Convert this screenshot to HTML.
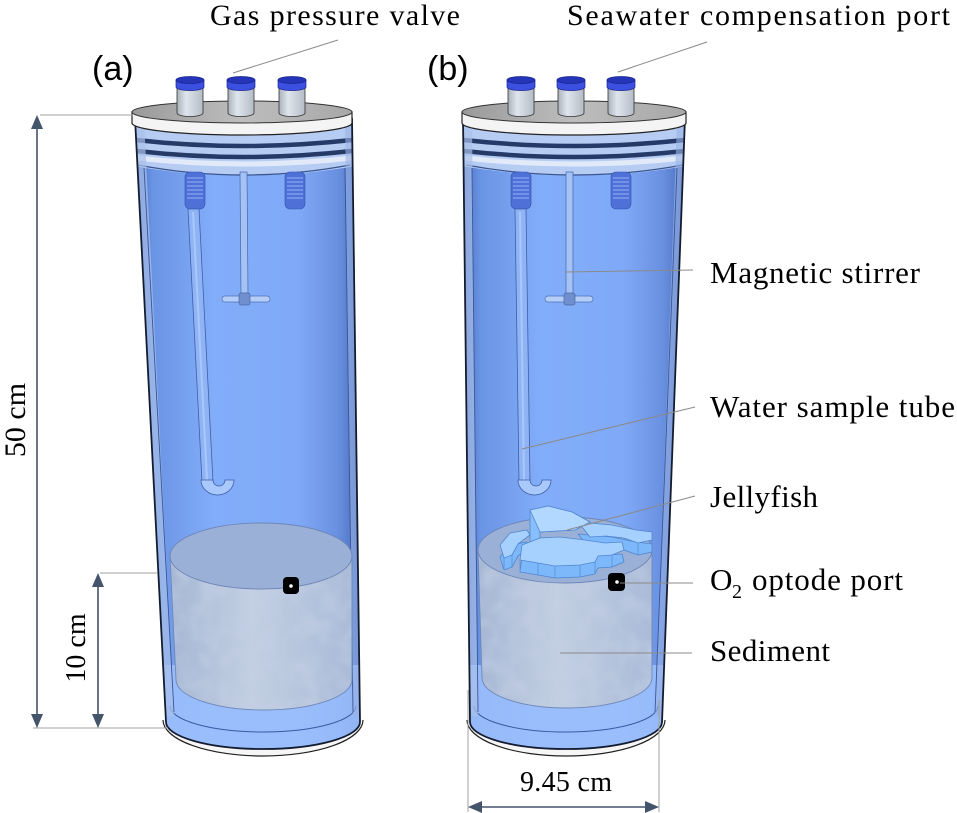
<!DOCTYPE html>
<html><head><meta charset="utf-8">
<style>
html,body{margin:0;padding:0;background:#fff;}
svg{display:block;}
.serif{font-family:"Liberation Serif","Times New Roman",serif;fill:#000;}
.sans{font-family:"Liberation Sans",Arial,sans-serif;fill:#000;}
</style></head><body>
<svg width="957" height="813" viewBox="0 0 957 813" xmlns="http://www.w3.org/2000/svg">
<defs>
 <linearGradient id="glassA" x1="0" x2="1" y1="0" y2="0">
  <stop offset="0" stop-color="#4a6ec0"/>
  <stop offset="0.08" stop-color="#6a94e4"/>
  <stop offset="0.35" stop-color="#82adf9"/>
  <stop offset="0.72" stop-color="#80aaf7"/>
  <stop offset="0.9" stop-color="#6990e0"/>
  <stop offset="1" stop-color="#4a6cbc"/>
 </linearGradient>
 <linearGradient id="lidG" x1="0" x2="1" y1="0" y2="0">
  <stop offset="0" stop-color="#9a9a9a"/>
  <stop offset="0.5" stop-color="#bdbdbd"/>
  <stop offset="1" stop-color="#a8a8a8"/>
 </linearGradient>
 <linearGradient id="portG" x1="0" x2="1" y1="0" y2="0">
  <stop offset="0" stop-color="#aab2bc"/>
  <stop offset="0.35" stop-color="#dfe5ec"/>
  <stop offset="1" stop-color="#b4bcc6"/>
 </linearGradient>
 <linearGradient id="sedG" x1="0" x2="1" y1="0" y2="0">
  <stop offset="0" stop-color="#a6b7d4"/>
  <stop offset="0.45" stop-color="#c2cfe2"/>
  <stop offset="1" stop-color="#aabbd8"/>
 </linearGradient>
 <filter id="noise" x="0" y="0" width="100%" height="100%">
  <feTurbulence type="fractalNoise" baseFrequency="0.05" numOctaves="2" seed="4"/>
  <feColorMatrix type="matrix" values="0 0 0 0 0.55  0 0 0 0 0.62  0 0 0 0 0.78  0 0 0 1.4 -0.55"/>
 </filter>
 <clipPath id="clipA"><path d="M135,118 L166,722 A97,27 0 0 0 360,722 L352,118 Z"/></clipPath>
 <clipPath id="clipB"><path d="M463,118 L470,722 A96,27 0 0 0 662,722 L685,118 Z"/></clipPath>
 <clipPath id="sedAclip"><path d="M170,556 L176,680 A88,30 0 0 0 352,680 L352,556 A91,33 0 0 1 170,556 Z"/></clipPath>
 <clipPath id="sedBclip"><path d="M478,550 L482,678 A85,30 0 0 0 652,678 L652,550 A87,33 0 0 1 478,550 Z"/></clipPath>
</defs>

<!-- ================= CYLINDER A ================= -->
<path d="M163,720 A100,36 0 0 0 363,720 Z" fill="#f6f6f6"/>
<path d="M163,720 A100,36 0 0 0 363,720" fill="none" stroke="#222" stroke-width="1.2"/>
<path d="M135,118 L166,722 A97,27 0 0 0 360,722 L352,118 Z" fill="url(#glassA)"/>
<g clip-path="url(#clipA)">
 <path d="M130,665 L365,665 L365,780 L130,780 Z" fill="#9fc1fd" opacity="0.85"/>
 <path d="M170,706 A93,26 0 0 0 356,706" fill="none" stroke="#3a5aa0" stroke-width="1"/>
 <path d="M128,126 L362,126 L362,165 Q243,186 128,165 Z" fill="#b6ccf3"/>
 <path d="M136,140 Q243,152 352,140" fill="none" stroke="#263a68" stroke-width="4.5"/>
 <path d="M137,151 Q243,163 352,151" fill="none" stroke="#263a68" stroke-width="4.5"/>
 <path d="M137,158 Q243,170 352,158" fill="none" stroke="#e2eafa" stroke-width="5"/>
 <path d="M138,165 Q243,185 350,165" fill="none" stroke="#3a5590" stroke-width="1.2"/>
 <polygon points="135,120 144,120 174,716 166,716" fill="#a9c0ea" opacity="0.7"/>
 <line x1="144" y1="168" x2="174" y2="712" stroke="#3a5598" stroke-width="0.9"/>
 <polygon points="352,120 345,120 353,716 360,716" fill="#9ab3e4" opacity="0.6"/>
 <line x1="345" y1="168" x2="353" y2="712" stroke="#3a5598" stroke-width="0.9"/>
</g>
<rect x="185" y="172" width="20" height="37" rx="5" fill="#4f70d6" stroke="#3050b0" stroke-width="0.6"/>
<rect x="285" y="172" width="20" height="37" rx="5" fill="#4f70d6" stroke="#3050b0" stroke-width="0.6"/>
<g stroke="#86a3f2" stroke-width="1.3">
 <line x1="187" y1="178" x2="203" y2="178"/><line x1="187" y1="182" x2="203" y2="182"/><line x1="187" y1="186" x2="203" y2="186"/><line x1="187" y1="190" x2="203" y2="190"/><line x1="187" y1="194" x2="203" y2="194"/><line x1="187" y1="198" x2="203" y2="198"/>
 <line x1="287" y1="178" x2="303" y2="178"/><line x1="287" y1="182" x2="303" y2="182"/><line x1="287" y1="186" x2="303" y2="186"/><line x1="287" y1="190" x2="303" y2="190"/><line x1="287" y1="194" x2="303" y2="194"/><line x1="287" y1="198" x2="303" y2="198"/>
</g>
<path d="M188,209 L199,209 L213,482 L202,482 Z" fill="#8fb4f6" stroke="#3f5ea8" stroke-width="0.8"/>
<line x1="193" y1="212" x2="207" y2="480" stroke="#a9c7fa" stroke-width="2"/>
<path d="M201,480 A16.5,15 0 0 0 234,480 L225,480 A6,6 0 0 1 213,480 Z" fill="#a9c8fb" stroke="#3f5ea8" stroke-width="0.8"/>
<path d="M240,172 L247,172 L248,296 L241,296 Z" fill="#a5c2f5" stroke="#4565ad" stroke-width="0.7"/>
<rect x="222" y="296" width="48" height="6" rx="3" fill="#b4cef7" stroke="#5070b5" stroke-width="0.7"/>
<rect x="239" y="293" width="11" height="12" rx="2" fill="#6f8fcf" stroke="#4a68a8" stroke-width="0.7"/>
<path d="M170,556 L176,680 A88,30 0 0 0 352,680 L352,556 A91,33 0 0 1 170,556 Z" fill="url(#sedG)"/>
<g clip-path="url(#sedAclip)"><rect x="165" y="520" width="195" height="200" filter="url(#noise)"/></g>
<path d="M170,556 L176,680 A88,30 0 0 0 352,680 L352,556" fill="none" stroke="#6f88b8" stroke-width="0.9"/>
<ellipse cx="261" cy="556" rx="91" ry="33" fill="#9bb0d6" stroke="#6d86b8" stroke-width="0.9"/>
<rect x="283" y="577" width="16" height="17" rx="4" fill="#000"/>
<circle cx="291" cy="586" r="1.8" fill="#fff"/>
<path d="M135,118 L166,722 A97,27 0 0 0 360,722 L352,118" fill="none" stroke="#141c30" stroke-width="1.8"/>
<path d="M132,112 L132,123 A110,12 0 0 0 352,123 L352,112 Z" fill="#f4f4f4" stroke="#222" stroke-width="1.2"/>
<ellipse cx="242" cy="112" rx="110" ry="11" fill="url(#lidG)" stroke="#333" stroke-width="1"/>
<g>
 <path d="M177,84 L177,113 A13,3.5 0 0 0 203,113 L203,84 Z" fill="url(#portG)" stroke="#333" stroke-width="0.8"/>
 <path d="M176,80 L176,87 A14,3.5 0 0 0 204,87 L204,80 Z" fill="#3b50e0" stroke="#1a2490" stroke-width="0.7"/>
 <ellipse cx="190" cy="80" rx="14" ry="3.5" fill="#2535b8" stroke="#1a2490" stroke-width="0.7"/>
 <path d="M228,84 L228,113 A13,3.5 0 0 0 254,113 L254,84 Z" fill="url(#portG)" stroke="#333" stroke-width="0.8"/>
 <path d="M227,80 L227,87 A14,3.5 0 0 0 255,87 L255,80 Z" fill="#3b50e0" stroke="#1a2490" stroke-width="0.7"/>
 <ellipse cx="241" cy="80" rx="14" ry="3.5" fill="#2535b8" stroke="#1a2490" stroke-width="0.7"/>
 <path d="M279,84 L279,113 A13,3.5 0 0 0 305,113 L305,84 Z" fill="url(#portG)" stroke="#333" stroke-width="0.8"/>
 <path d="M278,80 L278,87 A14,3.5 0 0 0 306,87 L306,80 Z" fill="#3b50e0" stroke="#1a2490" stroke-width="0.7"/>
 <ellipse cx="292" cy="80" rx="14" ry="3.5" fill="#2535b8" stroke="#1a2490" stroke-width="0.7"/>
</g>

<!-- ================= CYLINDER B ================= -->
<path d="M467,720 A99,36 0 0 0 665,720 Z" fill="#f6f6f6"/>
<path d="M467,720 A99,36 0 0 0 665,720" fill="none" stroke="#222" stroke-width="1.2"/>
<path d="M463,118 L470,722 A96,27 0 0 0 662,722 L685,118 Z" fill="url(#glassA)"/>
<g clip-path="url(#clipB)">
 <path d="M455,665 L690,665 L690,780 L455,780 Z" fill="#9fc1fd" opacity="0.85"/>
 <path d="M474,706 A92,26 0 0 0 658,706" fill="none" stroke="#3a5aa0" stroke-width="1"/>
 <path d="M456,126 L692,126 L692,165 Q574,186 456,165 Z" fill="#b6ccf3"/>
 <path d="M464,140 Q574,152 685,140" fill="none" stroke="#263a68" stroke-width="4.5"/>
 <path d="M464,151 Q574,163 685,151" fill="none" stroke="#263a68" stroke-width="4.5"/>
 <path d="M465,158 Q574,170 684,158" fill="none" stroke="#e2eafa" stroke-width="5"/>
 <path d="M466,165 Q574,185 683,165" fill="none" stroke="#3a5590" stroke-width="1.2"/>
 <polygon points="463,120 472,120 478,716 470,716" fill="#a9c0ea" opacity="0.7"/>
 <line x1="472" y1="168" x2="478" y2="712" stroke="#3a5598" stroke-width="0.9"/>
 <polygon points="685,120 677,120 655,716 662,716" fill="#9ab3e4" opacity="0.6"/>
 <line x1="677" y1="168" x2="655" y2="712" stroke="#3a5598" stroke-width="0.9"/>
</g>
<rect x="511" y="172" width="20" height="37" rx="5" fill="#4f70d6" stroke="#3050b0" stroke-width="0.6"/>
<rect x="611" y="172" width="20" height="37" rx="5" fill="#4f70d6" stroke="#3050b0" stroke-width="0.6"/>
<g stroke="#86a3f2" stroke-width="1.3">
 <line x1="513" y1="178" x2="529" y2="178"/><line x1="513" y1="182" x2="529" y2="182"/><line x1="513" y1="186" x2="529" y2="186"/><line x1="513" y1="190" x2="529" y2="190"/><line x1="513" y1="194" x2="529" y2="194"/><line x1="513" y1="198" x2="529" y2="198"/>
 <line x1="613" y1="178" x2="629" y2="178"/><line x1="613" y1="182" x2="629" y2="182"/><line x1="613" y1="186" x2="629" y2="186"/><line x1="613" y1="190" x2="629" y2="190"/><line x1="613" y1="194" x2="629" y2="194"/><line x1="613" y1="198" x2="629" y2="198"/>
</g>
<path d="M515,209 L526,209 L530,482 L519,482 Z" fill="#8fb4f6" stroke="#3f5ea8" stroke-width="0.8"/>
<line x1="520" y1="212" x2="524" y2="480" stroke="#a9c7fa" stroke-width="2"/>
<path d="M518,480 A16.5,15 0 0 0 551,480 L542,480 A6,6 0 0 1 530,480 Z" fill="#a9c8fb" stroke="#3f5ea8" stroke-width="0.8"/>
<path d="M566,172 L573,172 L573,296 L566,296 Z" fill="#a5c2f5" stroke="#4565ad" stroke-width="0.7"/>
<rect x="545" y="296" width="48" height="6" rx="3" fill="#b4cef7" stroke="#5070b5" stroke-width="0.7"/>
<rect x="564" y="293" width="11" height="12" rx="2" fill="#6f8fcf" stroke="#4a68a8" stroke-width="0.7"/>
<path d="M478,550 L482,678 A85,30 0 0 0 652,678 L652,550 A87,33 0 0 1 478,550 Z" fill="url(#sedG)"/>
<g clip-path="url(#sedBclip)"><rect x="470" y="515" width="190" height="200" filter="url(#noise)"/></g>
<path d="M478,550 L482,678 A85,30 0 0 0 652,678 L652,550" fill="none" stroke="#6f88b8" stroke-width="0.9"/>
<ellipse cx="565" cy="550" rx="87" ry="33" fill="#9bb0d6" stroke="#6d86b8" stroke-width="0.9"/>
<!-- jellyfish (extruded) -->
<g stroke="#4f86d0" stroke-width="0.8" stroke-linejoin="round">
 <!-- walls (shifted copies) -->
 <g fill="#7db8fa" transform="translate(0,12)">
  <polygon points="500,545 510,533 527,530 530,535 518,544 512,555 504,558"/>
  <polygon points="578,522 612,525 636,530 652,532 652,540 638,543 624,538 606,536 590,537"/>
  <polygon points="522,545 540,538 560,537 585,540 605,543 622,542 624,550 612,555 598,556 595,562 580,565 555,566 538,563 520,560"/>
 </g>
 <polygon points="530,510 548,506 572,512 590,522 575,530 540,532 540,548 530,546" fill="#86bffb"/>
 <!-- top faces -->
 <polygon points="500,545 510,533 527,530 530,535 518,544 512,555 504,558" fill="#a6d1ff"/>
 <polygon points="578,522 612,525 636,530 652,532 652,540 638,543 624,538 606,536 590,537" fill="#a6d1ff"/>
 <polygon points="530,510 548,506 572,512 590,522 575,530 540,532" fill="#b2d8ff"/>
 <polygon points="522,545 540,538 560,537 585,540 605,543 622,542 624,550 612,555 598,556 595,562 580,565 555,566 538,563 520,560" fill="#a6d1ff"/>
 <g stroke="#5a8fd6">
  <line x1="520" y1="560" x2="520" y2="572"/><line x1="538" y1="563" x2="538" y2="575"/><line x1="555" y1="566" x2="555" y2="578"/><line x1="580" y1="565" x2="580" y2="577"/><line x1="595" y1="562" x2="595" y2="574"/><line x1="612" y1="555" x2="612" y2="567"/>
  <line x1="504" y1="558" x2="504" y2="570"/><line x1="512" y1="555" x2="512" y2="567"/>
  <line x1="638" y1="543" x2="638" y2="555"/><line x1="652" y1="540" x2="652" y2="552"/>
 </g>
</g>
<rect x="608" y="573" width="17" height="18" rx="4" fill="#000"/>
<circle cx="617" cy="582" r="1.8" fill="#fff"/>
<path d="M463,118 L470,722 A96,27 0 0 0 662,722 L685,118" fill="none" stroke="#141c30" stroke-width="1.8"/>
<path d="M462,112 L462,123 A112,12 0 0 0 686,123 L686,112 Z" fill="#f4f4f4" stroke="#222" stroke-width="1.2"/>
<ellipse cx="574" cy="112" rx="112" ry="11" fill="url(#lidG)" stroke="#333" stroke-width="1"/>
<g>
 <path d="M508,84 L508,113 A13,3.5 0 0 0 534,113 L534,84 Z" fill="url(#portG)" stroke="#333" stroke-width="0.8"/>
 <path d="M507,80 L507,87 A14,3.5 0 0 0 535,87 L535,80 Z" fill="#3b50e0" stroke="#1a2490" stroke-width="0.7"/>
 <ellipse cx="521" cy="80" rx="14" ry="3.5" fill="#2535b8" stroke="#1a2490" stroke-width="0.7"/>
 <path d="M558,84 L558,113 A13,3.5 0 0 0 584,113 L584,84 Z" fill="url(#portG)" stroke="#333" stroke-width="0.8"/>
 <path d="M557,80 L557,87 A14,3.5 0 0 0 585,87 L585,80 Z" fill="#3b50e0" stroke="#1a2490" stroke-width="0.7"/>
 <ellipse cx="571" cy="80" rx="14" ry="3.5" fill="#2535b8" stroke="#1a2490" stroke-width="0.7"/>
 <path d="M608,84 L608,113 A13,3.5 0 0 0 634,113 L634,84 Z" fill="url(#portG)" stroke="#333" stroke-width="0.8"/>
 <path d="M607,80 L607,87 A14,3.5 0 0 0 635,87 L635,80 Z" fill="#3b50e0" stroke="#1a2490" stroke-width="0.7"/>
 <ellipse cx="621" cy="80" rx="14" ry="3.5" fill="#2535b8" stroke="#1a2490" stroke-width="0.7"/>
</g>

<!-- ================= LEADER LINES ================= -->
<g stroke="#8a8a8a" stroke-width="1" fill="none">
 <line x1="233" y1="73" x2="338" y2="40"/>
 <line x1="618" y1="72" x2="707" y2="42"/>
 <line x1="565" y1="272" x2="693" y2="270"/>
 <line x1="522" y1="449" x2="695" y2="407"/>
 <line x1="567" y1="530" x2="695" y2="496"/>
 <line x1="620" y1="583" x2="693" y2="583"/>
 <line x1="560" y1="653" x2="692" y2="653"/>
</g>

<!-- ================= DIMENSIONS ================= -->
<g stroke="#a0a0a0" stroke-width="1">
 <line x1="40" y1="115" x2="133" y2="115"/>
 <line x1="33" y1="728" x2="168" y2="728"/>
 <line x1="100" y1="573" x2="157" y2="573"/>
 <line x1="468" y1="690" x2="468" y2="812"/>
 <line x1="659" y1="700" x2="659" y2="812"/>
</g>
<g stroke="#44546a" stroke-width="1.6">
 <line x1="37" y1="125" x2="37" y2="718"/>
 <line x1="98" y1="583" x2="98" y2="718"/>
 <line x1="478" y1="807" x2="649" y2="807"/>
</g>
<g fill="#44546a">
 <polygon points="37,115 31,129 43,129"/>
 <polygon points="37,728 31,714 43,714"/>
 <polygon points="98,573 92,587 104,587"/>
 <polygon points="98,728 92,714 104,714"/>
 <polygon points="468,807 482,801 482,813"/>
 <polygon points="659,807 645,801 645,813"/>
</g>

<!-- ================= TEXT ================= -->
<text class="serif" x="210" y="25" font-size="30" textLength="250" lengthAdjust="spacing">Gas pressure valve</text>
<text class="serif" x="567" y="25" font-size="30" textLength="383" lengthAdjust="spacing">Seawater compensation port</text>
<text class="sans" x="92" y="80" font-size="34">(a)</text>
<text class="sans" x="427" y="80" font-size="34">(b)</text>
<text class="serif" x="710" y="283" font-size="31" textLength="210" lengthAdjust="spacing">Magnetic stirrer</text>
<text class="serif" x="710" y="417" font-size="31" textLength="245" lengthAdjust="spacing">Water sample tube</text>
<text class="serif" x="710" y="507" font-size="31" textLength="108" lengthAdjust="spacing">Jellyfish</text>
<text class="serif" x="710" y="590" font-size="31">O</text>
<text class="serif" x="732" y="598" font-size="20">2</text>
<text class="serif" x="752" y="590" font-size="31" textLength="151" lengthAdjust="spacing">optode port</text>
<text class="serif" x="710" y="661" font-size="31" textLength="120" lengthAdjust="spacing">Sediment</text>
<text class="serif" x="520" y="791" font-size="28" textLength="92" lengthAdjust="spacing">9.45 cm</text>
<text class="serif" font-size="30" text-anchor="middle" transform="translate(25,420) rotate(-90)">50 cm</text>
<text class="serif" font-size="28" text-anchor="middle" transform="translate(85,648) rotate(-90)">10 cm</text>
</svg>
</body></html>
